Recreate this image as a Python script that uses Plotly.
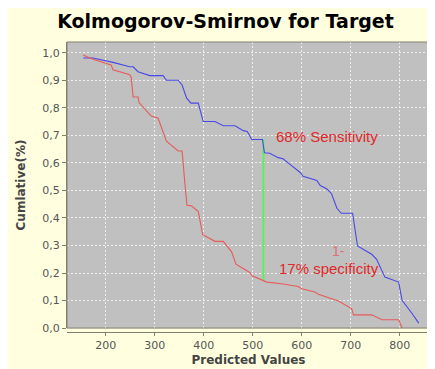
import plotly.graph_objects as go

# Data
target_x = [154, 174, 215, 249, 256, 266, 290, 317, 324, 348, 356, 365, 374, 389, 399, 423, 440, 464,
            481, 489, 498, 520, 524, 535, 552, 562, 580, 597, 603, 631, 638, 651, 661, 672, 681, 704,
            714, 743, 753, 770, 798, 805, 825, 839]
target_y = [0.981, 0.981, 0.965, 0.949, 0.949, 0.931, 0.917, 0.917, 0.900, 0.900, 0.883, 0.836, 0.817,
            0.817, 0.750, 0.750, 0.735, 0.735, 0.717, 0.714, 0.685, 0.685, 0.637, 0.635, 0.619, 0.615,
            0.589, 0.565, 0.551, 0.536, 0.518, 0.506, 0.488, 0.435, 0.417, 0.417, 0.298, 0.268, 0.250,
            0.185, 0.167, 0.101, 0.054, 0.018]

nontarget_x = [154, 174, 211, 215, 249, 252, 256, 266, 268, 293, 307, 324, 348, 356, 362, 366, 375, 389,
               398, 423, 440, 457, 466, 494, 499, 511, 522, 529, 559, 593, 600, 627, 634, 661, 675, 702,
               706, 743, 764, 798, 805]
nontarget_y = [0.992, 0.976, 0.956, 0.938, 0.920, 0.911, 0.839, 0.839, 0.819, 0.770, 0.762, 0.679, 0.643,
               0.643, 0.518, 0.446, 0.444, 0.423, 0.339, 0.315, 0.315, 0.277, 0.232, 0.202, 0.190, 0.181,
               0.175, 0.167, 0.161, 0.151, 0.143, 0.131, 0.123, 0.107, 0.098, 0.071, 0.048, 0.048, 0.030,
               0.030, 0.000]

ks_x = [522, 522]
ks_y = [0.685, 0.175]

y_ticks = [0.0, 0.1, 0.2, 0.3, 0.4, 0.5, 0.6, 0.7, 0.8, 0.9, 1.0]
y_tick_labels = ["0,0", "0,1", "0,2", "0,3", "0,4", "0,5", "0,6", "0,7", "0,8", "0,9", "1,0"]
x_ticks = [200, 300, 400, 500, 600, 700, 800]

sens_label = "68% Sensitivity"
spec_prefix = "1-"
spec_label = "17% specificity"

W, H = 435, 369
ml, mr, mt, mb = 59, 13, 34, 40
plot_h = H - mt - mb
d = 4 / plot_h

fig = go.Figure()
fig.add_trace(go.Scatter(x=ks_x, y=ks_y, mode="lines",
                         line=dict(color="#44ff44", width=1.6), showlegend=False))
fig.add_trace(go.Scatter(x=target_x, y=target_y, mode="lines",
                         line=dict(color="#4848e8", width=1.1), showlegend=False))
fig.add_trace(go.Scatter(x=nontarget_x, y=nontarget_y, mode="lines",
                         line=dict(color="#e85a5a", width=1.1), showlegend=False))

ann_font = "Liberation Sans"
fig.add_annotation(x=652, y=0.694, text=sens_label, showarrow=False,
                   font=dict(family=ann_font, size=15, color="#e02828"))
fig.add_annotation(x=675, y=0.279, text=spec_prefix, showarrow=False,
                   font=dict(family=ann_font, size=14, color="#e07070"))
fig.add_annotation(x=655, y=0.218, text=spec_label, showarrow=False,
                   font=dict(family=ann_font, size=15, color="#e02828"))

# plot outline
fig.add_shape(type="rect", xref="paper", yref="paper", x0=0, x1=1, y0=d, y1=1,
              line=dict(color="#808070", width=1), layer="above")

grid = "rgba(255,255,255,0.75)"
fig.update_layout(
    width=W, height=H,
    margin=dict(l=ml, r=mr, t=mt, b=mb, pad=0),
    paper_bgcolor="#ffffe0",
    plot_bgcolor="#c0c0c0",
    title=dict(text="<b>Kolmogorov-Smirnov for Target</b>", x=0.5, xanchor="center",
               y=1 - 13 / H, yanchor="middle",
               font=dict(family="DejaVu Sans", size=19, color="#000000")),
    xaxis=dict(range=[121, 862], tickvals=x_ticks, anchor="free", position=0,
               showline=True, linecolor="#808070", linewidth=1,
               ticks="outside", ticklen=3, tickcolor="#808070",
               tickfont=dict(family="DejaVu Sans", size=11, color="#555555"),
               showgrid=True, gridcolor=grid, griddash="2px,2px", gridwidth=1,
               zeroline=False,
               title=dict(text="<b>Predicted Values</b>", standoff=4,
                          font=dict(family="DejaVu Sans", size=12, color="#444444"))),
    yaxis=dict(range=[0, 1.039], domain=[d, 1], tickvals=y_ticks, ticktext=y_tick_labels,
               showline=True, linecolor="#808070", linewidth=1,
               ticks="outside", ticklen=4, tickcolor="#808070",
               tickfont=dict(family="DejaVu Sans", size=11, color="#555555"),
               showgrid=True, gridcolor=grid, griddash="2px,2px", gridwidth=1,
               zeroline=False,
               title=dict(text="<b>Cumlative(%)</b>", standoff=14,
                          font=dict(family="DejaVu Sans", size=12, color="#444444"))),
)

fig.write_html("out.html")
